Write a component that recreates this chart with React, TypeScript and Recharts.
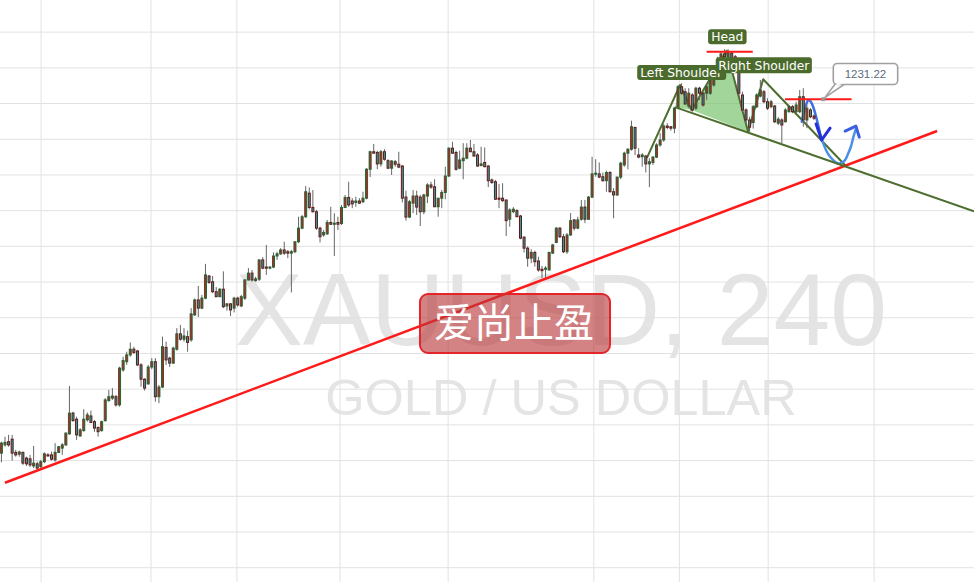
import React from 'react';
import {
  ComposedChart,
  Bar,
  XAxis,
  YAxis,
  CartesianGrid,
  ReferenceLine,
  ReferenceArea,
  ReferenceDot,
} from 'recharts';

const W = 974;
const H = 582;

// XAUUSD 4h candles, [open, high, low, close]
const ohlc: number[][] = [
  [1132.1, 1135.3, 1129.5, 1134.9], [1134.4, 1136.7, 1133.9, 1135.1], [1135.3, 1137.2, 1133.9, 1134.4],
  [1136.0, 1137.2, 1130.0, 1132.1], [1132.3, 1133.0, 1131.1, 1131.6], [1131.8, 1132.8, 1131.1, 1132.4],
  [1132.3, 1132.5, 1128.8, 1129.3], [1130.7, 1131.1, 1128.5, 1129.1], [1130.5, 1131.6, 1128.2, 1128.8],
  [1128.5, 1134.1, 1127.9, 1129.3], [1129.1, 1129.7, 1127.4, 1127.9], [1128.3, 1130.2, 1127.4, 1129.7],
  [1129.7, 1132.3, 1129.3, 1131.9], [1131.6, 1132.1, 1131.1, 1131.3], [1131.6, 1132.5, 1130.0, 1130.4],
  [1130.2, 1134.9, 1129.7, 1132.3], [1132.3, 1134.1, 1132.1, 1133.9], [1133.5, 1134.9, 1131.6, 1134.4],
  [1134.4, 1137.9, 1134.1, 1137.7], [1137.5, 1150.9, 1137.2, 1143.3], [1143.3, 1143.7, 1140.9, 1141.2],
  [1141.6, 1142.3, 1135.8, 1137.2], [1136.9, 1139.1, 1136.7, 1138.6], [1138.4, 1144.4, 1138.1, 1141.6],
  [1141.4, 1143.5, 1140.9, 1142.8], [1142.5, 1144.0, 1140.5, 1140.7], [1140.9, 1141.4, 1138.1, 1139.1],
  [1139.3, 1139.5, 1136.7, 1138.1], [1138.4, 1141.2, 1138.1, 1140.9], [1141.2, 1147.5, 1140.9, 1147.0],
  [1146.8, 1149.8, 1146.5, 1147.9], [1147.5, 1150.3, 1147.0, 1148.1], [1147.9, 1148.4, 1145.1, 1145.6],
  [1145.6, 1156.3, 1145.1, 1155.9], [1155.4, 1159.1, 1154.9, 1158.0], [1157.7, 1160.5, 1156.8, 1159.6],
  [1159.6, 1163.1, 1159.1, 1161.2], [1161.2, 1161.9, 1159.9, 1160.3], [1160.7, 1161.0, 1156.5, 1156.8],
  [1156.8, 1157.3, 1150.7, 1152.8], [1152.8, 1153.1, 1149.6, 1150.3], [1151.5, 1156.8, 1151.2, 1156.2],
  [1156.2, 1158.7, 1155.6, 1157.7], [1157.7, 1158.7, 1146.5, 1147.9], [1147.9, 1151.2, 1146.1, 1150.6],
  [1150.6, 1164.7, 1150.3, 1161.9], [1161.7, 1163.3, 1156.8, 1158.2], [1158.7, 1159.1, 1156.2, 1157.3],
  [1157.3, 1161.9, 1157.1, 1161.5], [1161.2, 1167.1, 1160.8, 1165.5], [1165.5, 1168.0, 1163.6, 1164.0],
  [1164.0, 1167.1, 1163.3, 1164.9], [1164.7, 1166.4, 1160.5, 1163.1], [1163.8, 1172.7, 1163.3, 1171.1],
  [1170.8, 1175.4, 1170.5, 1175.0],
  [1175.0, 1178.9, 1170.2, 1172.7], [1172.7, 1176.4, 1172.4, 1175.5], [1175.5, 1185.1, 1175.2, 1182.0],
  [1181.7, 1182.0, 1179.5, 1179.9], [1180.1, 1181.7, 1176.9, 1177.3], [1177.3, 1178.6, 1175.8, 1175.9],
  [1175.9, 1178.3, 1175.8, 1178.0], [1178.0, 1183.0, 1172.7, 1173.1], [1173.3, 1174.1, 1172.0, 1173.9],
  [1173.9, 1174.1, 1170.5, 1172.2], [1172.7, 1175.9, 1171.5, 1175.5], [1175.5, 1175.9, 1173.1, 1173.6],
  [1173.3, 1176.4, 1173.0, 1175.9], [1175.5, 1180.8, 1175.0, 1180.6], [1180.6, 1183.9, 1180.4, 1182.5],
  [1182.5, 1183.4, 1180.1, 1180.6], [1180.4, 1181.5, 1180.1, 1180.9], [1180.8, 1186.4, 1180.3, 1186.2],
  [1186.2, 1187.0, 1183.6, 1183.9], [1184.2, 1190.4, 1182.0, 1183.9], [1183.9, 1184.5, 1183.6, 1184.2],
  [1184.2, 1188.3, 1183.9, 1187.3], [1187.3, 1188.5, 1186.2, 1187.9], [1187.9, 1189.5, 1187.6, 1189.0],
  [1189.0, 1191.3, 1187.6, 1188.1], [1188.5, 1189.0, 1186.7, 1188.1], [1188.1, 1189.0, 1177.1, 1188.5],
  [1188.5, 1191.3, 1188.1, 1191.3], [1191.3, 1198.3, 1190.9, 1195.1], [1195.1, 1198.8, 1194.8, 1198.3],
  [1198.3, 1206.9, 1197.9, 1205.3], [1204.9, 1206.5, 1200.4, 1200.9], [1200.9, 1205.8, 1199.5, 1199.7],
  [1199.7, 1200.2, 1194.6, 1195.1], [1195.1, 1195.5, 1191.1, 1192.7], [1193.2, 1194.6, 1192.7, 1193.9],
  [1193.5, 1197.4, 1193.2, 1196.7],
  [1196.7, 1201.1, 1196.0, 1196.2], [1196.2, 1199.3, 1187.3, 1196.5], [1196.7, 1198.3, 1194.6, 1196.2],
  [1196.4, 1201.6, 1196.0, 1200.9], [1200.9, 1204.4, 1200.7, 1203.7], [1203.7, 1208.1, 1201.1, 1201.6],
  [1202.7, 1203.5, 1200.7, 1201.9], [1202.3, 1203.9, 1201.1, 1202.7], [1202.7, 1203.5, 1201.9, 1202.1],
  [1202.5, 1205.3, 1202.1, 1203.5],
  [1203.5, 1211.9, 1203.2, 1211.6], [1211.6, 1216.8, 1209.4, 1216.5], [1216.5, 1218.7, 1216.1, 1216.1],
  [1216.3, 1216.8, 1211.6, 1213.1], [1213.1, 1217.0, 1212.3, 1216.5], [1216.5, 1217.2, 1214.0, 1214.4],
  [1214.0, 1214.4, 1211.6, 1211.9], [1211.9, 1214.2, 1210.0, 1213.9], [1213.7, 1214.2, 1212.3, 1213.0],
  [1213.0, 1216.5, 1211.9, 1212.2], [1212.5, 1212.8, 1202.3, 1203.5], [1203.8, 1205.6, 1197.2, 1198.2],
  [1198.2, 1203.0, 1197.9, 1202.5], [1202.1, 1205.8, 1199.3, 1204.1], [1204.1, 1205.6, 1198.8, 1201.0],
  [1203.8, 1204.4, 1195.7, 1199.7], [1199.7, 1204.7, 1199.0, 1204.4], [1204.1, 1207.7, 1202.1, 1207.2],
  [1207.2, 1208.1, 1206.1, 1206.6], [1206.7, 1208.8, 1201.0, 1201.1], [1201.1, 1203.5, 1198.3, 1203.5],
  [1203.5, 1205.8, 1200.7, 1205.1], [1205.1, 1212.3, 1203.2, 1209.7], [1209.7, 1217.7, 1209.4, 1217.5],
  [1217.5, 1219.3, 1215.9, 1216.1], [1216.3, 1216.8, 1211.2, 1211.6], [1211.9, 1216.8, 1211.6, 1214.2],
  [1214.0, 1218.9, 1208.8, 1214.7], [1214.7, 1218.9, 1214.4, 1217.5], [1217.5, 1219.8, 1216.4, 1216.5],
  [1216.5, 1218.7, 1215.1, 1215.3], [1215.6, 1216.1, 1212.3, 1212.5], [1212.6, 1217.9, 1212.5, 1213.1],
  [1213.5, 1217.7, 1212.2, 1212.3], [1212.5, 1212.8, 1206.6, 1208.4], [1208.6, 1209.0, 1207.5, 1207.9],
  [1208.1, 1208.6, 1203.0, 1203.2], [1203.5, 1207.5, 1200.7, 1203.2], [1203.5, 1207.7, 1202.5, 1202.8],
  [1203.0, 1203.0, 1192.9, 1197.2], [1197.6, 1200.7, 1195.5, 1200.2], [1199.7, 1201.0, 1199.3, 1200.4],
  [1200.0, 1200.4, 1198.2, 1198.3], [1198.5, 1198.8, 1192.0, 1192.3], [1192.6, 1192.7, 1188.3, 1189.5],
  [1189.5, 1190.0, 1184.3, 1186.7], [1186.7, 1189.2, 1185.3, 1188.3], [1188.3, 1188.8, 1184.3, 1185.7],
  [1185.9, 1187.1, 1182.9, 1183.4], [1183.6, 1184.5, 1181.1, 1183.2], [1183.6, 1184.5, 1180.8, 1183.9],
  [1183.4, 1188.5, 1183.2, 1188.3], [1188.1, 1190.7, 1187.9, 1190.4], [1191.1, 1195.4, 1190.9, 1195.1],
  [1195.1, 1195.4, 1192.3, 1192.7], [1192.7, 1193.5, 1188.1, 1188.5], [1188.5, 1193.7, 1187.9, 1193.2],
  [1193.2, 1199.3, 1192.9, 1197.2], [1197.4, 1197.6, 1194.4, 1195.1], [1195.1, 1198.3, 1194.8, 1197.4],
  [1197.6, 1203.0, 1197.2, 1201.0], [1201.0, 1203.0, 1196.5, 1197.6], [1197.6, 1204.1, 1197.4, 1203.8],
  [1203.8, 1215.1, 1203.5, 1210.3], [1210.3, 1214.4, 1209.5, 1210.5], [1210.3, 1213.5, 1209.1, 1209.4],
  [1209.5, 1210.7, 1208.1, 1208.4], [1208.4, 1211.2, 1205.3, 1210.7], [1210.7, 1211.0, 1205.1, 1205.3],
  [1205.3, 1206.3, 1197.9, 1204.4], [1204.4, 1209.5, 1204.1, 1209.4], [1209.4, 1213.7, 1208.8, 1213.3],
  [1212.8, 1216.5, 1212.3, 1216.1], [1216.1, 1217.5, 1211.6, 1217.2], [1217.2, 1225.2, 1216.8, 1223.5],
  [1223.3, 1223.5, 1215.6, 1217.5], [1215.6, 1217.5, 1214.7, 1215.0], [1215.1, 1216.1, 1212.3, 1215.6],
  [1215.3, 1215.6, 1210.7, 1213.1], [1213.1, 1214.7, 1206.6, 1213.7], [1213.5, 1215.3, 1212.8, 1215.0],
  [1215.0, 1218.9, 1214.7, 1218.4], [1218.4, 1221.7, 1217.9, 1219.8], [1219.8, 1224.3, 1219.3, 1223.7],
  [1223.7, 1224.5, 1222.8, 1223.3], [1223.5, 1223.7, 1222.4, 1223.1], [1223.1, 1229.1, 1221.7, 1228.7],
  [1228.7, 1235.2, 1228.4, 1234.7],
  [1234.7, 1235.7, 1232.4, 1232.9], [1233.3, 1234.3, 1229.6, 1229.9], [1229.3, 1234.3, 1228.7, 1232.9],
  [1232.4, 1232.9, 1227.7, 1228.2], [1228.7, 1234.7, 1228.2, 1234.3], [1234.3, 1234.7, 1231.0, 1232.9],
  [1232.9, 1233.1, 1229.1, 1229.6], [1232.9, 1235.7, 1231.0, 1234.7], [1232.9, 1237.0, 1232.4, 1236.6],
  [1235.2, 1239.9, 1234.7, 1238.9], [1238.5, 1243.1, 1237.5, 1242.2], [1242.2, 1244.5, 1241.7, 1243.9],
  [1243.9, 1245.2, 1242.7, 1243.1], [1243.1, 1245.2, 1242.7, 1244.5], [1244.1, 1244.5, 1241.3, 1242.2],
  [1243.1, 1243.6, 1241.3, 1242.2], [1242.2, 1242.7, 1231.9, 1232.9], [1232.4, 1233.3, 1227.7, 1228.2],
  [1228.2, 1228.7, 1224.5, 1225.4], [1225.4, 1226.3, 1222.1, 1223.4], [1224.7, 1229.6, 1223.0, 1229.1],
  [1229.1, 1232.9, 1228.7, 1232.4], [1232.1, 1236.6, 1231.7, 1233.8], [1233.3, 1233.8, 1230.1, 1230.5],
  [1230.5, 1231.5, 1228.2, 1228.7], [1229.1, 1231.0, 1228.7, 1230.5], [1229.3, 1229.6, 1224.5, 1224.9],
  [1224.5, 1226.2, 1224.0, 1225.6], [1225.4, 1225.9, 1218.9, 1224.0], [1224.9, 1228.7, 1224.7, 1228.2],
  [1227.7, 1229.6, 1227.5, 1229.1], [1229.1, 1229.6, 1227.3, 1227.7], [1227.7, 1230.5, 1227.3, 1229.6],
  [1227.7, 1233.8, 1227.3, 1231.9], [1231.9, 1234.3, 1223.5, 1225.4], [1225.4, 1229.6, 1223.1, 1228.7],
  [1228.2, 1228.7, 1225.9, 1226.3], [1226.5, 1227.0, 1225.4, 1225.9],
];

const priceTicks = [1100, 1110, 1120, 1130, 1140, 1150, 1160, 1170, 1180, 1190, 1200, 1210, 1220, 1230, 1240, 1250];
const timeTicks = [11.0, 41.7, 65.7, 94.5, 124.7, 165.4, 189.3, 214.1, 243.7];
const xDomain = [-0.475, 271.6];
const yDomain = [1096, 1259];

// drawings, as [candle index, price]
const supportLine = [{ x: 0.9, y: 1123.8 }, { x: 261.3, y: 1222.3 }];
const neckLine = [{ x: 188.1, y: 1229.0 }, { x: 271.6, y: 1199.8 }];
const headLevel = [{ x: 196.9, y: 1244.5 }, { x: 209.8, y: 1244.5 }];
const entryLevel = [{ x: 218.8, y: 1231.22 }, { x: 237.4, y: 1231.22 }];

const patternPath = [
  [180.2, 1214.7], [189.5, 1235.2], [192.7, 1228.2], [202.5, 1244.8],
  [208.5, 1222.1], [212.7, 1236.8], [236.0, 1212.3],
];
const leftShoulderFill = [[188.1, 1229.0], [189.5, 1235.2], [192.7, 1228.2]];
const headFill = [[192.7, 1228.2], [202.5, 1244.8], [208.5, 1222.1]];

const swingDown = [
  [223.5, 1224.9], [224.4, 1228.8], [225.3, 1230.9], [226.35, 1229.9],
  [227.5, 1226.3], [228.6, 1221.7], [229.05, 1220.0],
];
const swingDownHead = [[227.5, 1224.3], [229.05, 1219.8], [231.4, 1223.1]];
const swingUp = [
  [229.05, 1220.0], [230.25, 1217.0], [231.4, 1215.1], [233.4, 1213.3], [234.7, 1213.5],
  [235.6, 1214.2], [236.4, 1215.9], [237.2, 1217.9], [237.9, 1220.6], [238.5, 1222.6],
];
const swingUpHead = [[235.6, 1222.3], [238.6, 1223.7], [239.55, 1220.6]];

const tags = [
  { text: 'Left Shoulder', i: 189.95, p: 1238.7, w: 89, h: 15, left: true },
  { text: 'Right Shoulder', i: 212.9, p: 1240.7, w: 96, h: 16, left: false },
  { text: 'Head', i: 202.7, p: 1248.7, w: 38.5, h: 15, left: false },
];
const priceTag = { text: '1231.22', i: 229.5, p: 1231.22 };

const candles = ohlc.map(([o, h, l, c], i) => ({ i, o, h, l, c, range: [l, h] }));

const Candle = (props: any) => {
  let { x, y, width, height } = props;
  const { o, h, l, c } = props.payload;
  if (height < 0) {
    y += height;
    height = -height;
  }
  const cx = x + width / 2;
  const span = h - l || 1;
  const py = (v: number) => y + ((h - v) / span) * height;
  const up = c >= o;
  const top = py(Math.max(o, c));
  const bot = py(Math.min(o, c));
  return (
    <g>
      <line x1={cx} x2={cx} y1={y} y2={y + height} stroke="#666666" strokeWidth={1} />
      <rect
        x={cx - 1}
        y={top}
        width={2}
        height={Math.max(bot - top, 1)}
        fill={up ? '#d3181b' : '#1ba5a8'}
        stroke={up ? '#1f6636' : '#6a1515'}
        strokeWidth={1}
      />
    </g>
  );
};

// smooth path through points (catmull-rom -> bezier)
const smooth = (pts: number[][]) => {
  let d = `M${pts[0][0]},${pts[0][1]}`;
  for (let k = 0; k < pts.length - 1; k++) {
    const p0 = pts[k - 1] || pts[k];
    const p1 = pts[k];
    const p2 = pts[k + 1];
    const p3 = pts[k + 2] || p2;
    const c1 = [p1[0] + (p2[0] - p0[0]) / 6, p1[1] + (p2[1] - p0[1]) / 6];
    const c2 = [p2[0] - (p3[0] - p1[0]) / 6, p2[1] - (p3[1] - p1[1]) / 6];
    d += ` C${c1[0]},${c1[1]} ${c2[0]},${c2[1]} ${p2[0]},${p2[1]}`;
  }
  return d;
};

// the drawing layer: a reference area over the whole plot hands us its pixel box
const Drawings = (pr: any) => {
  const map = ([i, p]: number[]) => [
    pr.x + ((i - xDomain[0]) / (xDomain[1] - xDomain[0])) * pr.width,
    pr.y + ((yDomain[1] - p) / (yDomain[1] - yDomain[0])) * pr.height,
  ];
  const pts = (a: number[][]) => a.map(map).map(q => q.join(',')).join(' ');
  return (
    <g>
      <polygon points={pts(leftShoulderFill)} fill="rgba(110,190,100,0.65)" />
      <polygon points={pts(headFill)} fill="rgba(110,190,100,0.65)" />
      <polyline points={pts(patternPath)} fill="none" stroke="#4e6e2f" strokeWidth={2} strokeLinejoin="round" />
      <path d={smooth(swingDown.map(map))} fill="none" stroke="#3d70e2" strokeWidth={2.5} strokeLinecap="round" />
      <path d={smooth(swingUp.map(map))} fill="none" stroke="#4a8fe8" strokeWidth={2.5} strokeLinecap="round" />
      <polyline points={pts(swingDownHead)} fill="none" stroke="#2430d8" strokeWidth={3} strokeLinecap="round" strokeLinejoin="round" />
      <polyline points={pts(swingUpHead)} fill="none" stroke="#3b5fe3" strokeWidth={3} strokeLinecap="round" strokeLinejoin="round" />
    </g>
  );
};

const TagBox = ({ cx, cy, t }: any) => (
  <g>
    <rect x={cx - t.w / 2} y={cy - t.h / 2} width={t.w} height={t.h} rx={3} fill="#4b6b2c" />
    <text
      x={t.left ? cx - t.w / 2 + 3 : cx}
      y={cy + 4.3}
      textAnchor={t.left ? 'start' : 'middle'}
      fontFamily="DejaVu Sans, Verdana, sans-serif"
      fontSize={12.3}
      fill="#ffffff"
    >
      {t.text}
    </text>
  </g>
);

const PriceCallout = ({ cx, cy }: any) => {
  const bx = cx + 10;
  const by = cy - 35.7;
  return (
    <g>
      <polygon
        points={`${cx + 12},${cy - 15.5} ${cx + 22},${cy - 15.5} ${cx + 1.5},${cy - 1.5}`}
        fill="#ffffff"
        stroke="#a0a0a0"
        strokeWidth={1.5}
      />
      <rect x={bx} y={by} width={64.4} height={21} rx={4} fill="#ffffff" stroke="#a0a0a0" strokeWidth={1.6} />
      <polygon points={`${cx + 13},${cy - 15.6} ${cx + 21},${cy - 15.6} ${cx + 13},${cy - 13.5}`} fill="#ffffff" />
      <rect x={cx - 2} y={cy - 2} width={4} height={4} fill="#9a9a9a" />
      <text
        x={bx + 32.2}
        y={by + 14.7}
        textAnchor="middle"
        fontFamily="Liberation Sans, Arial, sans-serif"
        fontSize={11.5}
        fill="#5b6b7c"
      >
        {priceTag.text}
      </text>
    </g>
  );
};

export default function App() {
  return (
    <div style={{ position: 'fixed', left: 0, top: 0, width: W, height: H, background: '#ffffff', overflow: 'hidden' }}>
      <svg width={W} height={H} style={{ position: 'absolute', left: 0, top: 0 }}>
        <text x={561} y={345} textAnchor="middle" fontFamily="Liberation Sans, Arial, sans-serif" fontSize={102} fill="#e4e4e4">
          XAUUSD, 240
        </text>
        <text x={561} y={415} textAnchor="middle" fontFamily="Liberation Sans, Arial, sans-serif" fontSize={50.5} fill="#e4e4e4">
          GOLD / US DOLLAR
        </text>
      </svg>
      <div style={{ position: 'absolute', left: 0, top: 0 }}>
        <ComposedChart width={W} height={H} data={candles} margin={{ top: 0, right: 0, bottom: 0, left: 0 }}>
          <CartesianGrid stroke="#e2e2e2" horizontalValues={priceTicks} verticalValues={timeTicks} />
          <XAxis type="number" dataKey="i" domain={xDomain} ticks={timeTicks} allowDataOverflow hide />
          <YAxis type="number" domain={yDomain} ticks={priceTicks} allowDataOverflow hide />
          <Bar dataKey="range" barSize={3} shape={Candle} isAnimationActive={false} />

          <ReferenceLine segment={supportLine} stroke="#ff1a1a" strokeWidth={2.5} ifOverflow="visible" />
          <ReferenceLine segment={neckLine} stroke="#4e6e2f" strokeWidth={2} ifOverflow="visible" />
          <ReferenceLine segment={headLevel} stroke="#ff1a1a" strokeWidth={2} ifOverflow="visible" />
          <ReferenceLine segment={entryLevel} stroke="#ff1a1a" strokeWidth={2} ifOverflow="visible" />

          <ReferenceArea
            x1={xDomain[0]}
            x2={xDomain[1]}
            y1={yDomain[0]}
            y2={yDomain[1]}
            ifOverflow="visible"
            shape={Drawings}
          />

          {tags.map(t => (
            <ReferenceDot
              key={t.text}
              x={t.i}
              y={t.p}
              r={0}
              ifOverflow="visible"
              shape={(pr: any) => <TagBox cx={pr.cx} cy={pr.cy} t={t} />}
            />
          ))}
          <ReferenceDot
            x={priceTag.i}
            y={priceTag.p}
            r={0}
            ifOverflow="visible"
            shape={(pr: any) => <PriceCallout cx={pr.cx} cy={pr.cy} />}
          />
        </ComposedChart>
      </div>
      <svg width={W} height={H} style={{ position: 'absolute', left: 0, top: 0, pointerEvents: 'none' }}>
        <rect x={420} y={294} width={190} height={59} rx={8} fill="rgba(185,55,58,0.62)" stroke="#e2262a" strokeWidth={2} />
        <text
          x={514}
          y={337}
          textAnchor="middle"
          fontFamily="Noto Sans CJK SC, sans-serif"
          fontSize={40}
          fill="#ffffff"
        >
          爱尚止盈
        </text>
      </svg>
    </div>
  );
}
